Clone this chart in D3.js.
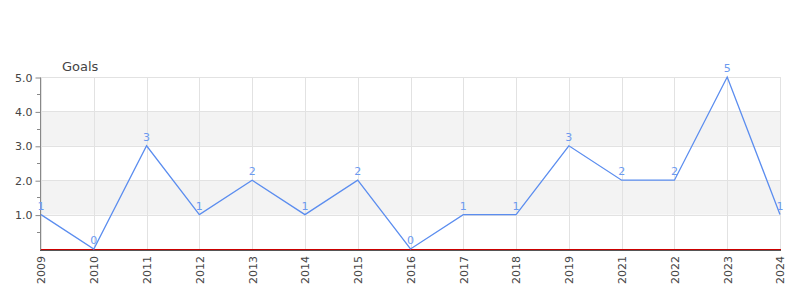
<!doctype html>
<html>
  <head>
    <meta charset="utf-8">
    <style type="text/css">
		body{
			margin: 0px;
			background: #ffffff;
		}
		#chart text{
			font-family: "DejaVu Sans", sans-serif;
		}
    </style>
    <script src="https://d3js.org/d3.v7.min.js"></script>
  </head>
  <body>
    <svg id="chart" width="800" height="300"></svg>
    <script type="text/javascript">
		var years = ["2009", "2010", "2011", "2012", "2013", "2014", "2015", "2016", "2017", "2018", "2019", "2021", "2022", "2023", "2024"];
		var goals = [1, 0, 3, 1, 2, 1, 2, 0, 1, 1, 3, 2, 2, 5, 1];
		var yTicks = [1, 2, 3, 4, 5];
		var yMinorTicks = [0.5, 1.5, 2.5, 3.5, 4.5];
		var bands = [[1, 2], [3, 4]];

		// plot box (window.top is reserved, so not "top")
		var plotLeft = 40, plotRight = 780, plotTop = 77, plotBottom = 249;

		var svg = d3.select("#chart");

		var scaleX = d3.scalePoint()
			.domain(years)
			.range([plotLeft + 1, plotRight]);
		var scaleY = d3.scaleLinear()
			.domain([0, 5])
			.range([plotBottom, plotTop]);

		// alternate bands
		svg.append("g").selectAll("rect")
			.data(bands)
			.enter().append("rect")
			.attr("x", plotLeft)
			.attr("y", function(d){ return scaleY(d[1]); })
			.attr("width", plotRight - plotLeft)
			.attr("height", function(d){ return scaleY(d[0]) - scaleY(d[1]); })
			.attr("fill", "#f3f3f3");

		// grid
		var grid = svg.append("g")
			.attr("stroke", "#e2e2e2")
			.attr("stroke-width", 1);
		grid.selectAll("line.h")
			.data(yTicks)
			.enter().append("line")
			.attr("x1", plotLeft)
			.attr("x2", plotRight + 0.5)
			.attr("y1", function(d){ return Math.round(scaleY(d)) + 0.5; })
			.attr("y2", function(d){ return Math.round(scaleY(d)) + 0.5; });
		grid.selectAll("line.v")
			.data(years)
			.enter().append("line")
			.attr("x1", function(d){ return Math.round(scaleX(d)) + 0.5; })
			.attr("x2", function(d){ return Math.round(scaleX(d)) + 0.5; })
			.attr("y1", plotTop)
			.attr("y2", plotBottom);

		// y axis
		var axisY = svg.append("g")
			.attr("transform", "translate(" + (plotLeft + 0.5) + ",0.5)")
			.call(d3.axisLeft(scaleY)
				.tickValues(yTicks)
				.tickSize(5)
				.tickPadding(3)
				.tickFormat(d3.format(".1f")));
		axisY.select(".domain").attr("stroke", "#888").attr("d", "M0," + plotTop + "V" + (plotBottom + 1));
		axisY.selectAll(".tick line").attr("stroke", "#888");
		axisY.selectAll(".tick text")
			.attr("fill", "#444")
			.style("font-size", "11px");
		svg.append("g").selectAll("line")
			.data(yMinorTicks)
			.enter().append("line")
			.attr("x1", plotLeft - 3)
			.attr("x2", plotLeft)
			.attr("y1", function(d){ return Math.round(scaleY(d)) + 0.5; })
			.attr("y2", function(d){ return Math.round(scaleY(d)) + 0.5; })
			.attr("stroke", "#888");

		// x axis
		var axisX = svg.append("g")
			.attr("transform", "translate(0," + (plotBottom + 1) + ")")
			.call(d3.axisBottom(scaleX).tickSize(0).tickPadding(6));
		axisX.select(".domain").remove();
		axisX.selectAll(".tick text")
			.attr("fill", "#444")
			.style("font-size", "11px")
			.attr("transform", "rotate(-90)")
			.attr("text-anchor", "end")
			.attr("x", -6)
			.attr("y", 0)
			.attr("dy", "0.35em");

		// baseline
		svg.append("line")
			.attr("x1", plotLeft).attr("x2", plotRight + 1)
			.attr("y1", plotBottom + 1.5).attr("y2", plotBottom + 1.5)
			.attr("stroke", "#555").attr("stroke-width", 1);
		svg.append("line")
			.attr("x1", plotLeft + 1).attr("x2", plotRight + 1)
			.attr("y1", plotBottom + 0.5).attr("y2", plotBottom + 0.5)
			.attr("stroke", "#cc0000").attr("stroke-width", 1);

		// line
		var line = d3.line()
			.x(function(d, i){ return scaleX(years[i]); })
			.y(function(d){ return scaleY(d); });
		svg.append("path")
			.attr("d", line(goals))
			.attr("fill", "none")
			.attr("stroke", "#5b8def")
			.attr("stroke-width", 1.3);

		// labels
		svg.append("g").selectAll("text")
			.data(goals)
			.enter().append("text")
			.attr("x", function(d, i){ return scaleX(years[i]); })
			.attr("y", function(d){ return scaleY(d) - 5; })
			.attr("text-anchor", "middle")
			.attr("fill", "#6c9af0")
			.style("font-size", "11px")
			.text(function(d){ return d; });

		// title
		svg.append("text")
			.attr("x", 62)
			.attr("y", 71)
			.attr("fill", "#444")
			.style("font-size", "13px")
			.text("Goals");
    </script>
  </body>
</html>
